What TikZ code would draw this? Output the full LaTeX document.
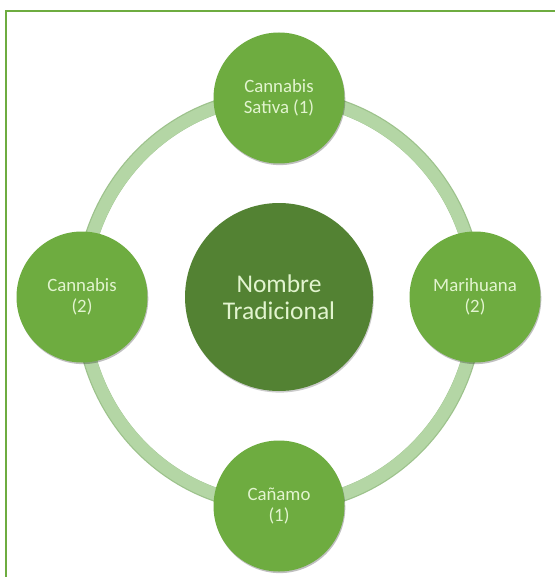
\documentclass[tikz,border=0pt]{standalone}
\usepackage{fontspec}
\setmainfont{Carlito}
\usepackage{tikz}
\usetikzlibrary{shadows,positioning}
\definecolor{verdeclaro}{HTML}{6EAC40}
\definecolor{verdeoscuro}{HTML}{538233}
\definecolor{verdeanillo}{HTML}{B4D6A5}
\definecolor{bordeanillo}{HTML}{9DC28C}
\definecolor{verdetexto}{HTML}{E2F4CF}

\begin{document}
\begin{tikzpicture}[x=1pt,y=-1pt,auto,semithick]
  \tikzstyle{petalo}=[circle,fill=verdeclaro,draw=none,minimum size=131pt,inner sep=0pt,
                      align=center,text=verdetexto,font=\fontsize{18.8}{21.5}\selectfont,
                      drop shadow={shadow xshift=0.8pt,shadow yshift=-1.6pt,opacity=0.25,fill=black}]
  \tikzstyle{centro}=[circle,fill=verdeoscuro,draw=none,minimum size=188pt,inner sep=0pt,
                      align=center,text=verdetexto,font=\fontsize{25.5}{26.5}\selectfont,
                      drop shadow={shadow xshift=0.8pt,shadow yshift=-1.6pt,opacity=0.2,fill=black}]
  \tikzstyle{anillo}=[line width=12.5pt,draw=verdeanillo]

  \useasboundingbox (0,0) rectangle (555,577);
  \fill[white] (0,0) rectangle (555,577);
  \draw[verdeclaro,line width=2.4pt] (6,577) -- (6,11) -- (555,11);

  % anillo de fondo
  \coordinate (eje) at (279,301);
  \draw[line width=14pt,draw=bordeanillo] (eje) ellipse [x radius=197.5pt, y radius=204.5pt];
  \draw[anillo] (eje) ellipse [x radius=197pt, y radius=204pt];

  \node[centro] (nombre) at (279,297) {Nombre\\Tradicional};
  \node[petalo] (sativa)    [above of=nombre,node distance=199pt] {Cannabis\\Sativa (1)};
  \node[petalo] (canamo)    [below of=nombre,node distance=209pt] {Cañamo\\(1)};
  \node[petalo] (cannabis)  [left of=nombre,node distance=197pt]  {Cannabis\\(2)};
  \node[petalo] (marihuana) [right of=nombre,node distance=196pt] {Marihuana\\(2)};
\end{tikzpicture}
\end{document}
